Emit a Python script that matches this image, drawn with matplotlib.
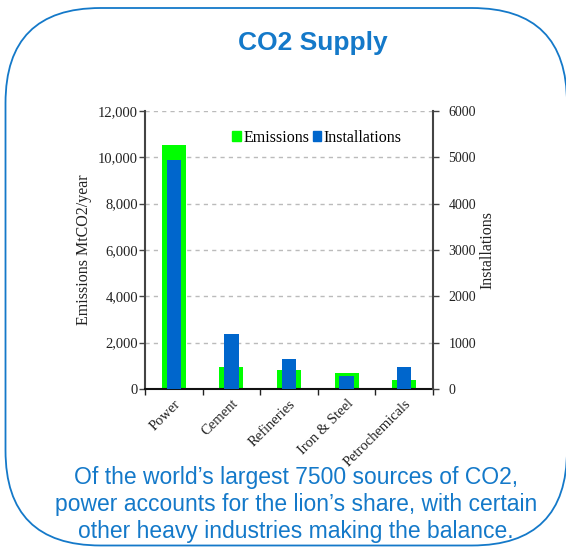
import numpy as np
import matplotlib
matplotlib.use('Agg')
import matplotlib.pyplot as plt
from matplotlib.patches import FancyBboxPatch, Patch
from matplotlib.ticker import FuncFormatter, FixedLocator

categories = ['Power', 'Cement', 'Refineries', 'Iron & Steel', 'Petrochemicals']
emissions = [10530, 950, 820, 670, 380]      # MtCO2/year, left axis
installations = [4950, 1190, 650, 280, 470]  # count, right axis

title = 'CO2 Supply'
caption = ["Of the world\u2019s largest 7500 sources of CO2,",
           "power accounts for the lion\u2019s share, with certain",
           "other heavy industries making the balance."]

green = '#00ff00'
blue = '#0066cc'
textblue = '#1479c9'
serif = 'Liberation Serif'
sans = 'Liberation Sans'

W, H = 566, 549
fig = plt.figure(figsize=(W / 100, H / 100), dpi=100)

# rounded frame
frame = FancyBboxPatch((0.055, 0.035), 5.615, 5.375,
                       boxstyle='round,pad=0,rounding_size=0.95',
                       transform=fig.dpi_scale_trans, fill=False,
                       edgecolor=textblue, linewidth=1.3, clip_on=False)
fig.patches.append(frame)

fig.text(313 / W, 1 - 50 / H, title, ha='center', va='baseline',
         fontsize=19, fontweight='bold', color=textblue, family=sans)
for i, line in enumerate(caption):
    fig.text(296 / W, 1 - (484 + 27 * i) / H, line, ha='center', va='baseline',
             fontsize=16.5, color=textblue, family=sans)

ax = fig.add_axes([145 / W, 1 - 389 / H, 288 / W, 278 / H])
ax2 = ax.twinx()

x = np.arange(len(categories)) + 0.5
ax.bar(x, emissions, width=0.42, color=green, zorder=2)
ax2.bar(x, installations, width=0.25, color=blue, zorder=2)

ax.set_xlim(0, len(categories))
ax.set_ylim(0, 12000)
ax2.set_ylim(0, 6000)
ax.set_yticks(np.arange(0, 12001, 2000))
ax2.set_yticks(np.arange(0, 6001, 1000))
ax.yaxis.set_major_formatter(FuncFormatter(lambda v, p: f'{int(v):,}'))

ax.set_xticks(x)
ax.set_xticklabels(categories, rotation=45, ha='right', rotation_mode='anchor',
                   family=serif, fontsize=10.5, color='#222222')
ax.xaxis.set_minor_locator(FixedLocator(np.arange(0, len(categories) + 1)))
ax.tick_params(axis='x', which='major', length=0, pad=6)
ax.tick_params(axis='x', which='minor', length=4, width=1, color='#222222')

ax.tick_params(axis='y', length=4, width=1, pad=1, color='#444444',
               labelsize=10.5, labelcolor='#222222')
ax2.tick_params(axis='y', length=4, width=1, pad=7, color='#444444',
                labelsize=10, labelcolor='#222222')
for lab in ax.get_yticklabels() + ax2.get_yticklabels():
    lab.set_family(serif)

ax.yaxis.grid(True, linestyle=(0, (3, 3)), color='#bbbbbb', linewidth=1)
ax.set_axisbelow(True)

for s in ['top', 'right']:
    ax.spines[s].set_visible(False)
for s in ['top', 'left', 'bottom']:
    ax2.spines[s].set_visible(False)
ax.spines['left'].set_color('#444444')
ax.spines['left'].set_linewidth(1.5)
ax2.spines['right'].set_color('#444444')
ax2.spines['right'].set_linewidth(1.5)
ax.spines['bottom'].set_color('#111111')
ax.spines['bottom'].set_linewidth(1.5)

ax.set_ylabel('Emissions MtCO2/year', family=serif, fontsize=11.5, color='#222222')
ax2.set_ylabel('Installations', family=serif, fontsize=11.5, color='#222222')
ax.yaxis.set_label_coords((92 - 145) / 288, 0.5)
ax2.yaxis.set_label_coords((479 - 145) / 288, 0.5)

handles = [Patch(color=green), Patch(color=blue)]
ax2.legend(handles, ['Emissions', 'Installations'], ncol=2, frameon=False,
           loc='center left', bbox_to_anchor=(232 / W, 1 - 138 / H),
           bbox_transform=fig.transFigure, borderpad=0, borderaxespad=0,
           handlelength=0.56, handleheight=0.56, handletextpad=0.15,
           columnspacing=0.2, prop={'family': serif, 'size': 11.5})

fig.savefig('out.png', dpi=100)
